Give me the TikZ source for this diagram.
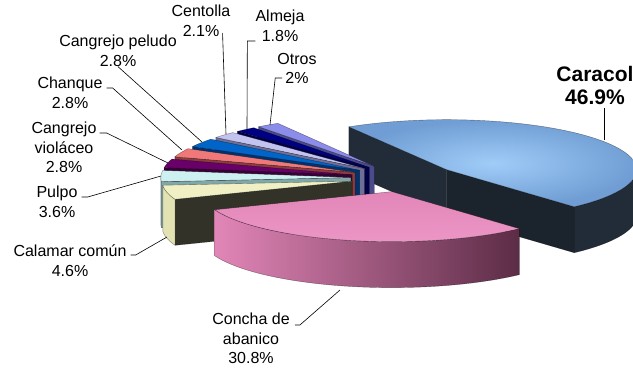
\documentclass[tikz,border=0pt]{standalone}
\usepackage{fontspec}
\setmainfont{Liberation Sans}
\definecolor{sl-caracol}{RGB}      {112, 158, 212}
\definecolor{sl-caracol-lt}{RGB}   {160, 204, 248}
\definecolor{sl-caracol-dk}{RGB}   { 34,  44,  56}
\definecolor{sl-caracol-dk2}{RGB}  { 27,  35,  45}
\definecolor{sl-concha}{RGB}       {226, 134, 184}
\definecolor{sl-concha-lt}{RGB}    {236, 150, 198}
\definecolor{sl-concha-dk}{RGB}    { 92,  44,  70}
\definecolor{sl-calamar}{RGB}      {240, 240, 196}
\definecolor{sl-calamar-sd}{RGB}   {226, 226, 178}
\definecolor{sl-calamar-dk}{RGB}   { 50,  50,  40}
\definecolor{sl-pulpo}{RGB}        {205, 240, 240}
\definecolor{sl-pulpo-sd}{RGB}     {186, 226, 226}
\definecolor{sl-pulpo-dk}{RGB}     {128, 168, 168}
\definecolor{sl-violaceo}{RGB}     {105,   0, 105}
\definecolor{sl-violaceo-dk}{RGB}  { 55,   0,  55}
\definecolor{sl-chanque}{RGB}      {240, 120, 120}
\definecolor{sl-chanque-dk}{RGB}   {140,  60,  60}
\definecolor{sl-peludo}{RGB}       {  0, 100, 200}
\definecolor{sl-peludo-dk}{RGB}    {  0,  50, 110}
\definecolor{sl-centolla}{RGB}     {195, 195, 240}
\definecolor{sl-centolla-dk}{RGB}  {110, 110, 150}
\definecolor{sl-almeja}{RGB}       {  0,   0, 130}
\definecolor{sl-almeja-dk}{RGB}    {  0,   0,  70}
\definecolor{sl-otros}{RGB}        {140, 140, 235}
\definecolor{sl-otros-dk}{RGB}     { 75,  75, 140}

% slice apex, pushed out along the middle angle
\newcommand{\setslice}[2]{%
	\pgfmathsetmacro\slx{404+53.2*cos((#1+#2)/2)}%
	\pgfmathsetmacro\sly{178-14*sin((#1+#2)/2)}}
\newcommand{\slicetop}[3]{%
	\path[piece,#3] (\slx,\sly) -- plot[domain=#1:#2,samples=50] ({\slx+190*cos(\x)},{\sly-50*sin(\x)}) -- cycle;}
\newcommand{\sliceface}[2]{%
	\path[piece,#2] (\slx,\sly) -- ({\slx+190*cos(#1)},{\sly-50*sin(#1)}) -- ++(0,46) -- ({\slx},{\sly+46}) -- cycle;}
\newcommand{\sliceside}[3]{%
	\path[piece,#3] plot[domain=#1:#2,samples=40] ({\slx+190*cos(\x)},{\sly-50*sin(\x)}) -- plot[domain=#2:#1,samples=40] ({\slx+190*cos(\x)},{\sly+46-50*sin(\x)}) -- cycle;}

\begin{document}
\begin{tikzpicture}[x=1pt, y=-1pt,
	piece/.style={draw=black, draw opacity=0.45, line width=0.4pt, line join=round},
	leader/.style={draw=black, line width=0.6pt},
	pietext/.style={align=center, inner sep=0pt, anchor=north, font=\fontsize{16}{19.5}\selectfont}]
\useasboundingbox (0,0) rectangle (633,368);
\clip (0,0) rectangle (633,368);

% back to front
\setslice{121}{-47.84}
	\sliceface{121}{fill=sl-caracol-dk}
	\sliceface{-47.84}{fill=sl-caracol-dk2}
	\sliceside{-47.84}{0}{fill=sl-caracol-dk}
	\slicetop{121}{-47.84}{inner color=sl-caracol-lt, outer color=sl-caracol}
\setslice{-232.52}{-239.5}
	\sliceface{-232.52}{fill=sl-otros-dk}
	\slicetop{-232.52}{-239.5}{fill=sl-otros}
\setslice{-226.04}{-232.52}
	\sliceface{-226.04}{fill=sl-almeja-dk}
	\slicetop{-226.04}{-232.52}{fill=sl-almeja}
\setslice{-218.48}{-226.04}
	\sliceface{-218.48}{fill=sl-centolla-dk}
	\slicetop{-218.48}{-226.04}{fill=sl-centolla}
\setslice{-208.40}{-218.48}
	\sliceface{-208.40}{fill=sl-peludo-dk}
	\slicetop{-208.40}{-218.48}{fill=sl-peludo}
\setslice{-198.32}{-208.40}
	\sliceface{-198.32}{fill=sl-chanque-dk}
	\slicetop{-198.32}{-208.40}{fill=sl-chanque}
\setslice{-188.24}{-198.32}
	\sliceface{-188.24}{fill=sl-violaceo-dk}
	\slicetop{-188.24}{-198.32}{fill=sl-violaceo}
\setslice{-175.28}{-188.24}
	\sliceface{-175.28}{fill=sl-pulpo-dk}
	\sliceside{-180}{-175.28}{fill=sl-pulpo-sd}
	\slicetop{-175.28}{-188.24}{fill=sl-pulpo}
\setslice{-158.72}{-175.28}
	\sliceface{-158.72}{fill=sl-calamar-dk}
	\sliceside{-175.28}{-158.72}{fill=sl-calamar-sd}
	\slicetop{-158.72}{-175.28}{fill=sl-calamar}
\setslice{-47.84}{-158.72}
	\sliceside{-158.72}{-47.84}{left color=sl-concha, right color=sl-concha-dk}
	\slicetop{-47.84}{-158.72}{top color=sl-concha, bottom color=sl-concha-lt}

% labels
\node[pietext, font=\fontsize{21}{23}\selectfont\bfseries] (caracol) at (595,66) {Caracol\\46.9\%};
\node[pietext] (otros) at (297,53) {Otros\\2\%};
\node[pietext] (almeja) at (280,10) {Almeja\\1.8\%};
\node[pietext] (centolla) at (201,5) {Centolla\\2.1\%};
\node[pietext] (peludo) at (118,35) {Cangrejo peludo\\2.8\%};
\node[pietext] (chanque) at (70,77) {Chanque\\2.8\%};
\node[pietext] (violaceo) at (64,122) {Cangrejo\\violáceo\\2.8\%};
\node[pietext] (pulpo) at (57,186) {Pulpo\\3.6\%};
\node[pietext] (calamar) at (70,245) {Calamar común\\4.6\%};
\node[pietext] (concha) at (251,313) {Concha de\\abanico\\30.8\%};

\coordinate (caracol-p) at (604,140);
\coordinate (otros-p) at (270,125);
\coordinate (almeja-p) at (247,129);
\coordinate (centolla-p) at (226,134);
\coordinate (peludo-p) at (202,142);
\coordinate (chanque-p) at (182,150);
\coordinate (violaceo-p) at (168,163);
\coordinate (pulpo-p) at (161,176);
\coordinate (calamar-p) at (167,237);
\coordinate (concha-p) at (340,290);

\draw[leader] ([yshift=-3pt]caracol-p |- caracol.south) -- (caracol-p);
\draw[leader] (otros.north west) ++(5,25) -- ++(-7,0) -- (otros-p);
\draw[leader] (almeja.north west) ++(0,31) -- ++(-8,0) -- (almeja-p);
\draw[leader] (centolla.north east) ++(-8,28) -- (centolla-p);
\draw[leader] (peludo.south) -- (peludo-p);
\draw[leader] (chanque.north east) ++(4,11) -- ++(6,0) -- (chanque-p);
\draw[leader] (violaceo.north east) ++(3,11) -- ++(7,0) -- (violaceo-p);
\draw[leader] (pulpo.north east) ++(4,11) -- ++(6,0) -- (pulpo-p);
\draw[leader] (calamar.north east) ++(4,10) -- ++(5,0) -- (calamar-p);
\draw[leader] (concha.north east) ++(5,12) -- ++(5,0) -- (concha-p);
\end{tikzpicture}
\end{document}
